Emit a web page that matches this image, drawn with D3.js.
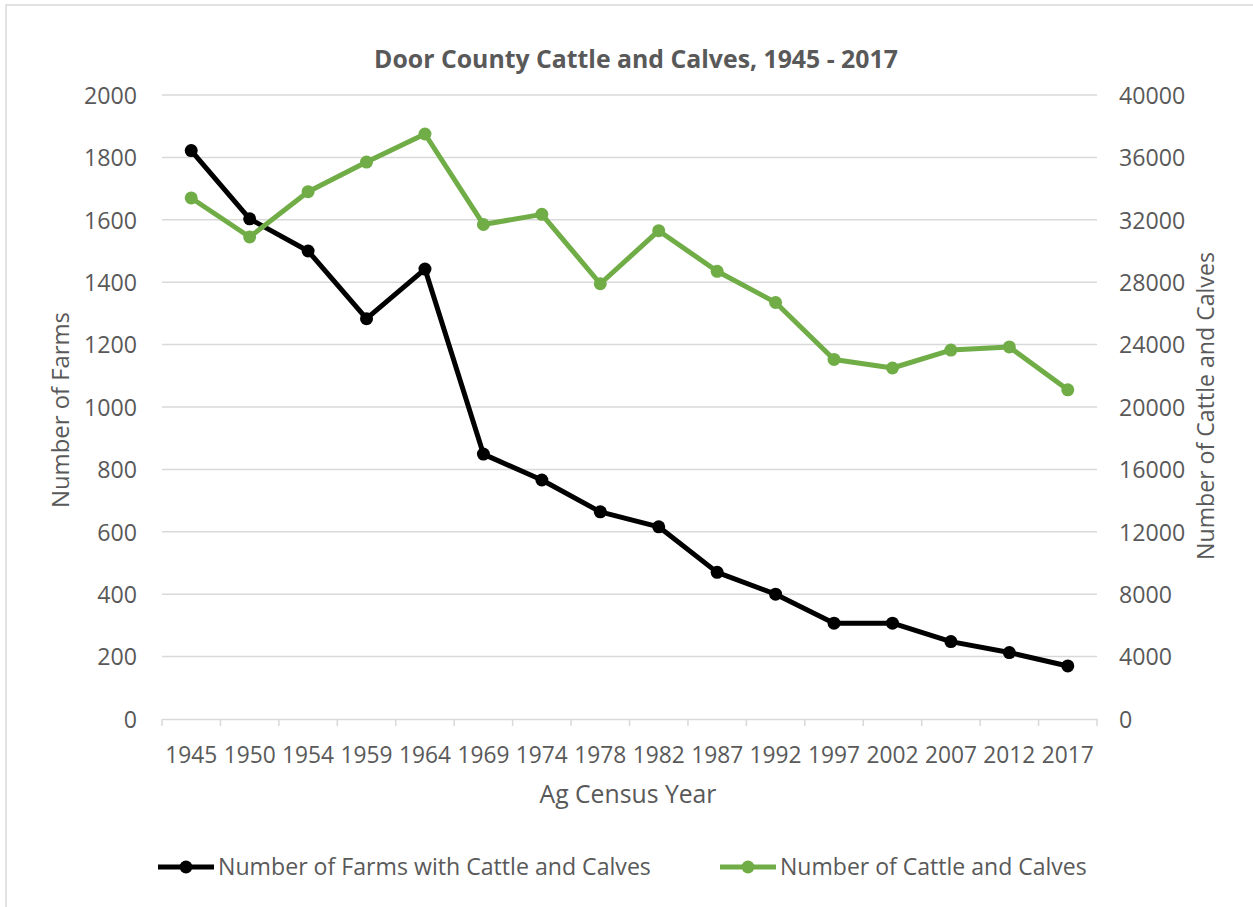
<!DOCTYPE html>
<html><head><meta charset="utf-8">
<script src="https://cdn.jsdelivr.net/npm/d3@7"></script>
<style>body{margin:0;background:#fff}svg{display:block}text{font-family:"Open Sans",sans-serif;fill:#595959}</style>
</head><body><svg id="c" width="1253" height="907"></svg>
<script>
const years = ["1945","1950","1954","1959","1964","1969","1974","1978","1982","1987","1992","1997","2002","2007","2012","2017"];
const farms = [1822,1603,1500,1283,1442,849,766,664,616,470,400,307,307,248,213,170];
const cattle = [33400,30900,33800,35700,37500,31700,32350,27900,31300,28700,26700,23050,22500,23650,23850,21100];
const leftTicks = [0,200,400,600,800,1000,1200,1400,1600,1800,2000];
const rightTicks = [0,4000,8000,12000,16000,20000,24000,28000,32000,36000,40000];
const seriesNames = ["Number of Farms with Cattle and Calves","Number of Cattle and Calves"];
const colors = ["#000000","#70AD47"];

const svg = d3.select("#c");
const L=162,R=1097,T=95,B=719;
const x = d3.scaleBand().domain(years).range([L,R]);
const yL = d3.scaleLinear().domain([0,2000]).range([B,T]);
const yR = d3.scaleLinear().domain([0,40000]).range([B,T]);
const fmt = d3.format("d");

function fit(sel, w){ const n=sel.node(); const fs=parseFloat(sel.attr("font-size")); const m=n.getComputedTextLength(); sel.attr("font-size", fs*w/m); return sel; }

svg.append("rect").attr("x",6).attr("y",5).attr("width",1300).attr("height",1000).attr("fill","none").attr("stroke","#D9D9D9").attr("stroke-width",1.5);

// grid
svg.append("g").selectAll("line").data(leftTicks.filter(d=>d>0)).join("line")
 .attr("x1",L).attr("x2",R).attr("y1",d=>yL(d)).attr("y2",d=>yL(d)).attr("stroke","#D9D9D9").attr("stroke-width",1.5);

// x axis
const xa = svg.append("g").attr("transform",`translate(0,${B})`)
 .call(d3.axisBottom(x).tickSize(0).tickPadding(0));
xa.select(".domain").attr("stroke","#D9D9D9").attr("stroke-width",1.5);
xa.selectAll(".tick text").attr("font-size",23).attr("fill","#595959").attr("dy",0).attr("y",44)
 .attr("font-family","Open Sans").each(function(){fit(d3.select(this),52);});
const bounds = years.map(d=>x(d)).concat([R]);
svg.append("g").selectAll("line").data(bounds).join("line")
 .attr("x1",d=>d).attr("x2",d=>d).attr("y1",B).attr("y2",B+7).attr("stroke","#D9D9D9").attr("stroke-width",1.5);

// left axis
const la = svg.append("g").attr("transform",`translate(${L},0)`).call(d3.axisLeft(yL).tickValues(leftTicks).tickFormat(fmt).tickSize(0).tickPadding(25));
la.select(".domain").remove();
la.selectAll(".tick text").attr("font-size",23).attr("fill","#595959").attr("font-family","Open Sans").attr("dy","0.36em");
la.selectAll(".tick text").filter(d=>d===2000).each(function(){fit(d3.select(this),53);});
const fsL = la.selectAll(".tick text").filter(d=>d===2000).attr("font-size");
la.selectAll(".tick text").attr("font-size",fsL);

// right axis
const ra = svg.append("g").attr("transform",`translate(${R},0)`).call(d3.axisRight(yR).tickValues(rightTicks).tickFormat(fmt).tickSize(0).tickPadding(22));
ra.select(".domain").remove();
ra.selectAll(".tick text").attr("font-size",fsL).attr("fill","#595959").attr("font-family","Open Sans").attr("dy","0.36em");

// series
const sers=[{v:farms,y:yL,c:colors[0]},{v:cattle,y:yR,c:colors[1]}];
sers.forEach(s=>{
 const line=d3.line().x((d,i)=>x(years[i])+x.bandwidth()/2).y(d=>s.y(d));
 svg.append("path").datum(s.v).attr("d",line).attr("fill","none").attr("stroke",s.c).attr("stroke-width",5).attr("stroke-linejoin","round");
 svg.append("g").selectAll("circle").data(s.v).join("circle")
  .attr("cx",(d,i)=>x(years[i])+x.bandwidth()/2).attr("cy",d=>s.y(d)).attr("r",6.5).attr("fill",s.c);
});

// title
fit(svg.append("text").attr("x",636).attr("y",68).attr("text-anchor","middle").attr("font-weight","bold").attr("font-size",22)
 .text("Door County Cattle and Calves, 1945 - 2017"),524);

// axis titles
fit(svg.append("text").attr("x",628).attr("y",803).attr("text-anchor","middle").attr("font-size",22).text("Ag Census Year"),177);
fit(svg.append("text").attr("transform","translate(69,410) rotate(-90)").attr("text-anchor","middle").attr("font-size",22).text("Number of Farms"),196);
fit(svg.append("text").attr("transform","translate(1214,406) rotate(-90)").attr("text-anchor","middle").attr("font-size",22).text("Number of Cattle and Calves"),308);

// legend
const leg=[{x0:158,x1:214,tx:218,w:433},{x0:720,x1:776,tx:780,w:307}];
leg.forEach((g,i)=>{
 const ly=867;
 svg.append("line").attr("x1",g.x0).attr("x2",g.x1).attr("y1",ly).attr("y2",ly).attr("stroke",colors[i]).attr("stroke-width",5);
 svg.append("circle").attr("cx",(g.x0+g.x1)/2).attr("cy",ly).attr("r",6.5).attr("fill",colors[i]);
 const t=svg.append("text").attr("x",g.tx).attr("y",ly+8).attr("font-size",22).text(seriesNames[i]);
 fit(t,g.w);
});
</script></body></html>
